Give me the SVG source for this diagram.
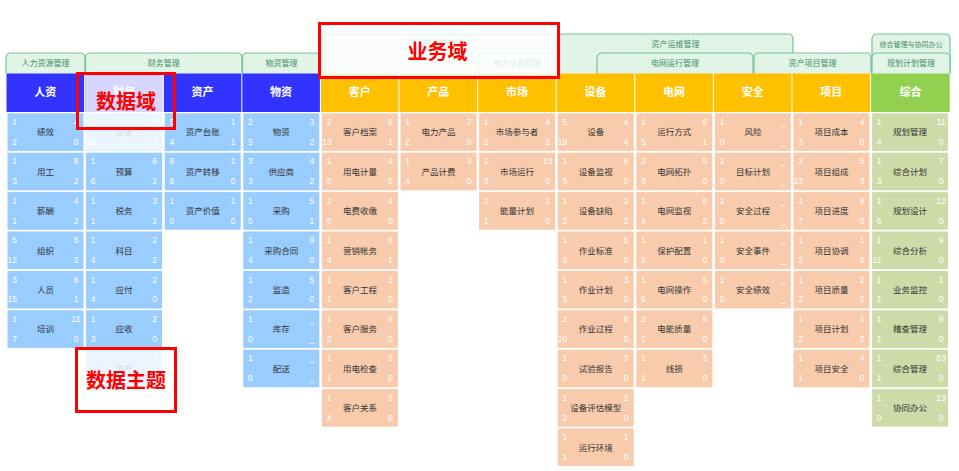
<svg xmlns="http://www.w3.org/2000/svg" xmlns:xlink="http://www.w3.org/1999/xlink" width="959" height="471" viewBox="0 0 959 471">
<defs>
<pattern id="dots" width="4" height="4" patternUnits="userSpaceOnUse"><rect width="4" height="4" fill="#dcf2e3"/><circle cx="1" cy="1" r="0.75" fill="#f8fdf9"/><circle cx="3" cy="3" r="0.75" fill="#f8fdf9"/></pattern>
<rect id="cb" x="1" y="0" width="76" height="37.6" fill="#99ccff"/>
<rect id="co" x="1" y="0" width="76" height="37.6" fill="#f8cbad"/>
<rect id="cg" x="1" y="0" width="76" height="37.6" fill="#cddba8"/>
</defs>
<style>
.n{font-family:"Liberation Sans",Arial,sans-serif;font-size:8.5px;fill:#fff}
.e{text-anchor:end}
.m{text-anchor:middle}
.t{font-family:"Noto Sans CJK SC",sans-serif;font-size:8.5px;fill:#333;text-anchor:middle}
.ht{font-family:"Noto Sans CJK SC",sans-serif;font-size:11px;font-weight:bold;fill:#fff;text-anchor:middle}
.hb{fill:#3333ff}.ho{fill:#ffc000}.hg{fill:#92d050}
.tab{fill:url(#dots);stroke:#78c298;stroke-width:1.2}
.tt{font-family:"Noto Sans CJK SC",sans-serif;font-size:8px;fill:#3f8f5f;text-anchor:middle}
.rb{fill:none;stroke:#ff0000;stroke-width:3}
.rt{font-family:"Noto Sans CJK SC",sans-serif;font-size:20px;font-weight:bold;fill:#ff0000;text-anchor:middle}
</style>
<rect width="959" height="471" fill="#fff"/>

<g id="tabs">
<g id="tab-yingxiao"><path class="tab" d="M322,73.5 V39 Q322,34 327,34 H551 Q556,34 556,39 V73.5"/><text class="tt" x="439" y="47">营销管理</text></g>
<g id="tab-zichanyunwei"><path class="tab" d="M558,73.5 V39 Q558,34 563,34 H788 Q793,34 793,39 V73.5"/><text class="tt" x="675.5" y="47">资产运维管理</text></g>
<g id="tab-zonghe"><path class="tab" d="M872,73.5 V39 Q872,34 877,34 H945 Q950,34 950,39 V73.5"/><text class="tt" x="911" y="46.5" style="font-size:7px">综合管理与协同办公</text></g>
<g id="tab-renli"><path class="tab" d="M6,73.5 V58 Q6,53 11,53 H80 Q85,53 85,58 V73.5"/><text class="tt" x="45.5" y="66">人力资源管理</text></g>
<g id="tab-caiwu"><path class="tab" d="M85.5,73.5 V58 Q85.5,53 90.5,53 H237 Q242,53 242,58 V73.5"/><text class="tt" x="163.7" y="66">财务管理</text></g>
<g id="tab-wuzi"><path class="tab" d="M242.5,73.5 V58 Q242.5,53 247.5,53 H315.5 Q320.5,53 320.5,58 V73.5"/><text class="tt" x="281.5" y="66">物资管理</text></g>
<g id="tab-dianlijiaoyi"><path class="tab" d="M478,73.5 V58 Q478,53 483,53 H551 Q556,53 556,58 V73.5"/><text class="tt" x="517" y="66">电力交易管理</text></g>
<g id="tab-dianwang"><path class="tab" d="M597,73.5 V58 Q597,53 602,53 H748 Q753,53 753,58 V73.5"/><text class="tt" x="675" y="66">电网运行管理</text></g>
<g id="tab-xiangmu"><path class="tab" d="M754,73.5 V58 Q754,53 759,53 H866 Q871,53 871,58 V73.5"/><text class="tt" x="812.5" y="66">资产项目管理</text></g>
<g id="tab-guihua"><path class="tab" d="M872,73.5 V58 Q872,53 877,53 H945 Q950,53 950,58 V73.5"/><text class="tt" x="911" y="66">规划计划管理</text></g>
</g>

<g id="headers">
<g id="h-renzi"><rect class="hb" x="6.5" y="73.5" width="77.6" height="38.5"/><text class="ht" x="45.3" y="96">人资</text></g>
<g id="h-caiwu"><rect class="hb" x="85.1" y="73.5" width="77.6" height="38.5"/><text class="ht" x="123.9" y="96">财务</text></g>
<g id="h-zichan"><rect class="hb" x="163.7" y="73.5" width="77.6" height="38.5"/><text class="ht" x="202.5" y="96">资产</text></g>
<g id="h-wuzi"><rect class="hb" x="242.3" y="73.5" width="77.6" height="38.5"/><text class="ht" x="281.1" y="96">物资</text></g>
<g id="h-kehu"><rect class="ho" x="320.9" y="73.5" width="77.6" height="38.5"/><text class="ht" x="359.7" y="96">客户</text></g>
<g id="h-chanpin"><rect class="ho" x="399.5" y="73.5" width="77.6" height="38.5"/><text class="ht" x="438.3" y="96">产品</text></g>
<g id="h-shichang"><rect class="ho" x="478.1" y="73.5" width="77.6" height="38.5"/><text class="ht" x="516.9" y="96">市场</text></g>
<g id="h-shebei"><rect class="ho" x="556.7" y="73.5" width="77.6" height="38.5"/><text class="ht" x="595.5" y="96">设备</text></g>
<g id="h-dianwang"><rect class="ho" x="635.3" y="73.5" width="77.6" height="38.5"/><text class="ht" x="674.1" y="96">电网</text></g>
<g id="h-anquan"><rect class="ho" x="713.9" y="73.5" width="77.6" height="38.5"/><text class="ht" x="752.7" y="96">安全</text></g>
<g id="h-xiangmu"><rect class="ho" x="792.5" y="73.5" width="77.6" height="38.5"/><text class="ht" x="831.3" y="96">项目</text></g>
<g id="h-zonghe"><rect class="hg" x="871.1" y="73.5" width="78.6" height="38.5"/><text class="ht" x="910.4" y="96">综合</text></g>
</g>

<g id="col-renzi" transform="translate(6.5,0)">
<g id="rz1" transform="translate(0,113.3)"><use href="#cb"/><text class="n e" x="10.5" y="11.7">1</text><text class="n m" x="69.5" y="11.7">4</text><text class="n e" x="10.5" y="31.5">2</text><text class="n m" x="69.5" y="31.5">0</text><text class="t" x="39" y="22">绩效</text></g>
<g id="rz2" transform="translate(0,152.7)"><use href="#cb"/><text class="n e" x="10.5" y="11.7">1</text><text class="n m" x="69.5" y="11.7">8</text><text class="n e" x="10.5" y="31.5">3</text><text class="n m" x="69.5" y="31.5">2</text><text class="t" x="39" y="22">用工</text></g>
<g id="rz3" transform="translate(0,192.1)"><use href="#cb"/><text class="n e" x="10.5" y="11.7">1</text><text class="n m" x="69.5" y="11.7">4</text><text class="n e" x="10.5" y="31.5">1</text><text class="n m" x="69.5" y="31.5">2</text><text class="t" x="39" y="22">薪酬</text></g>
<g id="rz4" transform="translate(0,231.5)"><use href="#cb"/><text class="n e" x="10.5" y="11.7">5</text><text class="n m" x="69.5" y="11.7">5</text><text class="n e" x="10.5" y="31.5">12</text><text class="n m" x="69.5" y="31.5">2</text><text class="t" x="39" y="22">组织</text></g>
<g id="rz5" transform="translate(0,270.9)"><use href="#cb"/><text class="n e" x="10.5" y="11.7">3</text><text class="n m" x="69.5" y="11.7">6</text><text class="n e" x="10.5" y="31.5">15</text><text class="n m" x="69.5" y="31.5">1</text><text class="t" x="39" y="22">人员</text></g>
<g id="rz6" transform="translate(0,310.3)"><use href="#cb"/><text class="n e" x="10.5" y="11.7">1</text><text class="n m" x="69.5" y="11.7">15</text><text class="n e" x="10.5" y="31.5">7</text><text class="n m" x="69.5" y="31.5">0</text><text class="t" x="39" y="22">培训</text></g>
</g>

<g id="col-caiwu" transform="translate(85.1,0)">
<g id="cw1" transform="translate(0,113.3)"><use href="#cb"/><text class="n e" x="10.5" y="11.7">1</text><text class="n m" x="69.5" y="11.7">20</text><text class="n e" x="10.5" y="31.5">15</text><text class="n m" x="69.5" y="31.5">7</text><text class="t" x="39" y="22">总账</text></g>
<g id="cw2" transform="translate(0,152.7)"><use href="#cb"/><text class="n e" x="10.5" y="11.7">1</text><text class="n m" x="69.5" y="11.7">6</text><text class="n e" x="10.5" y="31.5">6</text><text class="n m" x="69.5" y="31.5">2</text><text class="t" x="39" y="22">预算</text></g>
<g id="cw3" transform="translate(0,192.1)"><use href="#cb"/><text class="n e" x="10.5" y="11.7">1</text><text class="n m" x="69.5" y="11.7">3</text><text class="n e" x="10.5" y="31.5">1</text><text class="n m" x="69.5" y="31.5">2</text><text class="t" x="39" y="22">税务</text></g>
<g id="cw4" transform="translate(0,231.5)"><use href="#cb"/><text class="n e" x="10.5" y="11.7">1</text><text class="n m" x="69.5" y="11.7">2</text><text class="n e" x="10.5" y="31.5">4</text><text class="n m" x="69.5" y="31.5">2</text><text class="t" x="39" y="22">科目</text></g>
<g id="cw5" transform="translate(0,270.9)"><use href="#cb"/><text class="n e" x="10.5" y="11.7">1</text><text class="n m" x="69.5" y="11.7">2</text><text class="n e" x="10.5" y="31.5">4</text><text class="n m" x="69.5" y="31.5">0</text><text class="t" x="39" y="22">应付</text></g>
<g id="cw6" transform="translate(0,310.3)"><use href="#cb"/><text class="n e" x="10.5" y="11.7">1</text><text class="n m" x="69.5" y="11.7">2</text><text class="n e" x="10.5" y="31.5">3</text><text class="n m" x="69.5" y="31.5">0</text><text class="t" x="39" y="22">应收</text></g>
<g id="cw7" transform="translate(0,349.7)"><use href="#cb"/><text class="n e" x="10.5" y="11.7">2</text><text class="n m" x="69.5" y="11.7">3</text><text class="t" x="39" y="22">资产</text></g>
</g>

<g id="col-zichan" transform="translate(163.7,0)">
<g id="zc1" transform="translate(0,113.3)"><use href="#cb"/><text class="n e" x="10.5" y="11.7">5</text><text class="n m" x="69.5" y="11.7">1</text><text class="n e" x="10.5" y="31.5">4</text><text class="n m" x="69.5" y="31.5">1</text><text class="t" x="39" y="22">资产台账</text></g>
<g id="zc2" transform="translate(0,152.7)"><use href="#cb"/><text class="n e" x="10.5" y="11.7">6</text><text class="n m" x="69.5" y="11.7">1</text><text class="n e" x="10.5" y="31.5">8</text><text class="n m" x="69.5" y="31.5">0</text><text class="t" x="39" y="22">资产转移</text></g>
<g id="zc3" transform="translate(0,192.1)"><use href="#cb"/><text class="n e" x="10.5" y="11.7">1</text><text class="n m" x="69.5" y="11.7">1</text><text class="n e" x="10.5" y="31.5">0</text><text class="n m" x="69.5" y="31.5">0</text><text class="t" x="39" y="22">资产价值</text></g>
</g>

<g id="col-wuzi" transform="translate(242.3,0)">
<g id="wz1" transform="translate(0,113.3)"><use href="#cb"/><text class="n e" x="10.5" y="11.7">2</text><text class="n m" x="69.5" y="11.7">3</text><text class="n e" x="10.5" y="31.5">5</text><text class="n m" x="69.5" y="31.5">2</text><text class="t" x="39" y="22">物资</text></g>
<g id="wz2" transform="translate(0,152.7)"><use href="#cb"/><text class="n e" x="10.5" y="11.7">3</text><text class="n m" x="69.5" y="11.7">4</text><text class="n e" x="10.5" y="31.5">3</text><text class="n m" x="69.5" y="31.5">2</text><text class="t" x="39" y="22">供应商</text></g>
<g id="wz3" transform="translate(0,192.1)"><use href="#cb"/><text class="n e" x="10.5" y="11.7">1</text><text class="n m" x="69.5" y="11.7">5</text><text class="n e" x="10.5" y="31.5">5</text><text class="n m" x="69.5" y="31.5">1</text><text class="t" x="39" y="22">采购</text></g>
<g id="wz4" transform="translate(0,231.5)"><use href="#cb"/><text class="n e" x="10.5" y="11.7">1</text><text class="n m" x="69.5" y="11.7">9</text><text class="n e" x="10.5" y="31.5">4</text><text class="n m" x="69.5" y="31.5">0</text><text class="t" x="39" y="22">采购合同</text></g>
<g id="wz5" transform="translate(0,270.9)"><use href="#cb"/><text class="n e" x="10.5" y="11.7">1</text><text class="n m" x="69.5" y="11.7">5</text><text class="n e" x="10.5" y="31.5">2</text><text class="n m" x="69.5" y="31.5">0</text><text class="t" x="39" y="22">监造</text></g>
<g id="wz6" transform="translate(0,310.3)"><use href="#cb"/><text class="n e" x="10.5" y="11.7">1</text><text class="n m" x="69.5" y="11.7">_</text><text class="n e" x="10.5" y="31.5">0</text><text class="n m" x="69.5" y="31.5">_</text><text class="t" x="39" y="22">库存</text></g>
<g id="wz7" transform="translate(0,349.7)"><use href="#cb"/><text class="n e" x="10.5" y="11.7">1</text><text class="n m" x="69.5" y="11.7">_</text><text class="n e" x="10.5" y="31.5">0</text><text class="n m" x="69.5" y="31.5">_</text><text class="t" x="39" y="22">配送</text></g>
</g>

<g id="col-kehu" transform="translate(320.9,0)">
<g id="kh1" transform="translate(0,113.3)"><use href="#co"/><text class="n e" x="10.5" y="11.7">2</text><text class="n m" x="69.5" y="11.7">9</text><text class="n e" x="10.5" y="31.5">13</text><text class="n m" x="69.5" y="31.5">1</text><text class="t" x="39" y="22">客户档案</text></g>
<g id="kh2" transform="translate(0,152.7)"><use href="#co"/><text class="n e" x="10.5" y="11.7">1</text><text class="n m" x="69.5" y="11.7">4</text><text class="n e" x="10.5" y="31.5">6</text><text class="n m" x="69.5" y="31.5">0</text><text class="t" x="39" y="22">用电计量</text></g>
<g id="kh3" transform="translate(0,192.1)"><use href="#co"/><text class="n e" x="10.5" y="11.7">2</text><text class="n m" x="69.5" y="11.7">4</text><text class="n e" x="10.5" y="31.5">6</text><text class="n m" x="69.5" y="31.5">0</text><text class="t" x="39" y="22">电费收缴</text></g>
<g id="kh4" transform="translate(0,231.5)"><use href="#co"/><text class="n e" x="10.5" y="11.7">1</text><text class="n m" x="69.5" y="11.7">6</text><text class="n e" x="10.5" y="31.5">4</text><text class="n m" x="69.5" y="31.5">1</text><text class="t" x="39" y="22">营销帐务</text></g>
<g id="kh5" transform="translate(0,270.9)"><use href="#co"/><text class="n e" x="10.5" y="11.7">1</text><text class="n m" x="69.5" y="11.7">3</text><text class="n e" x="10.5" y="31.5">1</text><text class="n m" x="69.5" y="31.5">0</text><text class="t" x="39" y="22">客户工程</text></g>
<g id="kh6" transform="translate(0,310.3)"><use href="#co"/><text class="n e" x="10.5" y="11.7">1</text><text class="n m" x="69.5" y="11.7">6</text><text class="n e" x="10.5" y="31.5">2</text><text class="n m" x="69.5" y="31.5">0</text><text class="t" x="39" y="22">客户服务</text></g>
<g id="kh7" transform="translate(0,349.7)"><use href="#co"/><text class="n e" x="10.5" y="11.7">1</text><text class="n m" x="69.5" y="11.7">3</text><text class="n e" x="10.5" y="31.5">1</text><text class="n m" x="69.5" y="31.5">0</text><text class="t" x="39" y="22">用电检查</text></g>
<g id="kh8" transform="translate(0,389.1)"><use href="#co"/><text class="n e" x="10.5" y="11.7">1</text><text class="n m" x="69.5" y="11.7">3</text><text class="n e" x="10.5" y="31.5">4</text><text class="n m" x="69.5" y="31.5">0</text><text class="t" x="39" y="22">客户关系</text></g>
</g>

<g id="col-chanpin" transform="translate(399.5,0)">
<g id="cp1" transform="translate(0,113.3)"><use href="#co"/><text class="n e" x="10.5" y="11.7">1</text><text class="n m" x="69.5" y="11.7">7</text><text class="n e" x="10.5" y="31.5">2</text><text class="n m" x="69.5" y="31.5">0</text><text class="t" x="39" y="22">电力产品</text></g>
<g id="cp2" transform="translate(0,152.7)"><use href="#co"/><text class="n e" x="10.5" y="11.7">1</text><text class="n m" x="69.5" y="11.7">3</text><text class="n e" x="10.5" y="31.5">4</text><text class="n m" x="69.5" y="31.5">0</text><text class="t" x="39" y="22">产品计费</text></g>
</g>

<g id="col-shichang" transform="translate(478.1,0)">
<g id="sc1" transform="translate(0,113.3)"><use href="#co"/><text class="n e" x="10.5" y="11.7">1</text><text class="n m" x="69.5" y="11.7">4</text><text class="n e" x="10.5" y="31.5">2</text><text class="n m" x="69.5" y="31.5">2</text><text class="t" x="39" y="22">市场参与者</text></g>
<g id="sc2" transform="translate(0,152.7)"><use href="#co"/><text class="n e" x="10.5" y="11.7">1</text><text class="n m" x="69.5" y="11.7">13</text><text class="n e" x="10.5" y="31.5">3</text><text class="n m" x="69.5" y="31.5">0</text><text class="t" x="39" y="22">市场运行</text></g>
<g id="sc3" transform="translate(0,192.1)"><use href="#co"/><text class="n e" x="10.5" y="11.7">2</text><text class="n m" x="69.5" y="11.7">1</text><text class="n e" x="10.5" y="31.5">1</text><text class="n m" x="69.5" y="31.5">0</text><text class="t" x="39" y="22">能量计划</text></g>
</g>

<g id="col-shebei" transform="translate(556.7,0)">
<g id="sb1" transform="translate(0,113.3)"><use href="#co"/><text class="n e" x="10.5" y="11.7">5</text><text class="n m" x="69.5" y="11.7">4</text><text class="n e" x="10.5" y="31.5">19</text><text class="n m" x="69.5" y="31.5">4</text><text class="t" x="39" y="22">设备</text></g>
<g id="sb2" transform="translate(0,152.7)"><use href="#co"/><text class="n e" x="10.5" y="11.7">1</text><text class="n m" x="69.5" y="11.7">8</text><text class="n e" x="10.5" y="31.5">5</text><text class="n m" x="69.5" y="31.5">0</text><text class="t" x="39" y="22">设备监视</text></g>
<g id="sb3" transform="translate(0,192.1)"><use href="#co"/><text class="n e" x="10.5" y="11.7">1</text><text class="n m" x="69.5" y="11.7">2</text><text class="n e" x="10.5" y="31.5">2</text><text class="n m" x="69.5" y="31.5">2</text><text class="t" x="39" y="22">设备缺陷</text></g>
<g id="sb4" transform="translate(0,231.5)"><use href="#co"/><text class="n e" x="10.5" y="11.7">1</text><text class="n m" x="69.5" y="11.7">5</text><text class="n e" x="10.5" y="31.5">2</text><text class="n m" x="69.5" y="31.5">0</text><text class="t" x="39" y="22">作业标准</text></g>
<g id="sb5" transform="translate(0,270.9)"><use href="#co"/><text class="n e" x="10.5" y="11.7">1</text><text class="n m" x="69.5" y="11.7">3</text><text class="n e" x="10.5" y="31.5">5</text><text class="n m" x="69.5" y="31.5">0</text><text class="t" x="39" y="22">作业计划</text></g>
<g id="sb6" transform="translate(0,310.3)"><use href="#co"/><text class="n e" x="10.5" y="11.7">2</text><text class="n m" x="69.5" y="11.7">8</text><text class="n e" x="10.5" y="31.5">10</text><text class="n m" x="69.5" y="31.5">0</text><text class="t" x="39" y="22">作业过程</text></g>
<g id="sb7" transform="translate(0,349.7)"><use href="#co"/><text class="n e" x="10.5" y="11.7">1</text><text class="n m" x="69.5" y="11.7">3</text><text class="n e" x="10.5" y="31.5">0</text><text class="n m" x="69.5" y="31.5">0</text><text class="t" x="39" y="22">试验报告</text></g>
<g id="sb8" transform="translate(0,389.1)"><use href="#co"/><text class="n e" x="10.5" y="11.7">1</text><text class="n m" x="69.5" y="11.7">2</text><text class="n e" x="10.5" y="31.5">2</text><text class="n m" x="69.5" y="31.5">0</text><text class="t" x="39" y="22">设备评估模型</text></g>
<g id="sb9" transform="translate(0,428.5)"><use href="#co"/><text class="n e" x="10.5" y="11.7">1</text><text class="n m" x="69.5" y="11.7">1</text><text class="n e" x="10.5" y="31.5">1</text><text class="n m" x="69.5" y="31.5">0</text><text class="t" x="39" y="22">运行环境</text></g>
</g>

<g id="col-dianwang" transform="translate(635.3,0)">
<g id="dw1" transform="translate(0,113.3)"><use href="#co"/><text class="n e" x="10.5" y="11.7">1</text><text class="n m" x="69.5" y="11.7">8</text><text class="n e" x="10.5" y="31.5">5</text><text class="n m" x="69.5" y="31.5">1</text><text class="t" x="39" y="22">运行方式</text></g>
<g id="dw2" transform="translate(0,152.7)"><use href="#co"/><text class="n e" x="10.5" y="11.7">2</text><text class="n m" x="69.5" y="11.7">5</text><text class="n e" x="10.5" y="31.5">3</text><text class="n m" x="69.5" y="31.5">0</text><text class="t" x="39" y="22">电网拓扑</text></g>
<g id="dw3" transform="translate(0,192.1)"><use href="#co"/><text class="n e" x="10.5" y="11.7">1</text><text class="n m" x="69.5" y="11.7">6</text><text class="n e" x="10.5" y="31.5">4</text><text class="n m" x="69.5" y="31.5">2</text><text class="t" x="39" y="22">电网监视</text></g>
<g id="dw4" transform="translate(0,231.5)"><use href="#co"/><text class="n e" x="10.5" y="11.7">1</text><text class="n m" x="69.5" y="11.7">1</text><text class="n e" x="10.5" y="31.5">2</text><text class="n m" x="69.5" y="31.5">0</text><text class="t" x="39" y="22">保护配置</text></g>
<g id="dw5" transform="translate(0,270.9)"><use href="#co"/><text class="n e" x="10.5" y="11.7">1</text><text class="n m" x="69.5" y="11.7">5</text><text class="n e" x="10.5" y="31.5">6</text><text class="n m" x="69.5" y="31.5">0</text><text class="t" x="39" y="22">电网操作</text></g>
<g id="dw6" transform="translate(0,310.3)"><use href="#co"/><text class="n e" x="10.5" y="11.7">2</text><text class="n m" x="69.5" y="11.7">5</text><text class="n e" x="10.5" y="31.5">1</text><text class="n m" x="69.5" y="31.5">0</text><text class="t" x="39" y="22">电能质量</text></g>
<g id="dw7" transform="translate(0,349.7)"><use href="#co"/><text class="n e" x="10.5" y="11.7">1</text><text class="n m" x="69.5" y="11.7">3</text><text class="n e" x="10.5" y="31.5">1</text><text class="n m" x="69.5" y="31.5">0</text><text class="t" x="39" y="22">线损</text></g>
</g>

<g id="col-anquan" transform="translate(713.9,0)">
<g id="aq1" transform="translate(0,113.3)"><use href="#co"/><text class="n e" x="10.5" y="11.7">1</text><text class="n m" x="69.5" y="11.7">_</text><text class="n e" x="10.5" y="31.5">0</text><text class="n m" x="69.5" y="31.5">_</text><text class="t" x="39" y="22">风险</text></g>
<g id="aq2" transform="translate(0,152.7)"><use href="#co"/><text class="n e" x="10.5" y="11.7">1</text><text class="n m" x="69.5" y="11.7">_</text><text class="n e" x="10.5" y="31.5">0</text><text class="n m" x="69.5" y="31.5">_</text><text class="t" x="39" y="22">目标计划</text></g>
<g id="aq3" transform="translate(0,192.1)"><use href="#co"/><text class="n e" x="10.5" y="11.7">1</text><text class="n m" x="69.5" y="11.7">_</text><text class="n e" x="10.5" y="31.5">0</text><text class="n m" x="69.5" y="31.5">_</text><text class="t" x="39" y="22">安全过程</text></g>
<g id="aq4" transform="translate(0,231.5)"><use href="#co"/><text class="n e" x="10.5" y="11.7">1</text><text class="n m" x="69.5" y="11.7">_</text><text class="n e" x="10.5" y="31.5">0</text><text class="n m" x="69.5" y="31.5">_</text><text class="t" x="39" y="22">安全事件</text></g>
<g id="aq5" transform="translate(0,270.9)"><use href="#co"/><text class="n e" x="10.5" y="11.7">1</text><text class="n m" x="69.5" y="11.7">_</text><text class="n e" x="10.5" y="31.5">0</text><text class="n m" x="69.5" y="31.5">_</text><text class="t" x="39" y="22">安全绩效</text></g>
</g>

<g id="col-xiangmu" transform="translate(792.5,0)">
<g id="xm1" transform="translate(0,113.3)"><use href="#co"/><text class="n e" x="10.5" y="11.7">1</text><text class="n m" x="69.5" y="11.7">4</text><text class="n e" x="10.5" y="31.5">3</text><text class="n m" x="69.5" y="31.5">0</text><text class="t" x="39" y="22">项目成本</text></g>
<g id="xm2" transform="translate(0,152.7)"><use href="#co"/><text class="n e" x="10.5" y="11.7">2</text><text class="n m" x="69.5" y="11.7">5</text><text class="n e" x="10.5" y="31.5">23</text><text class="n m" x="69.5" y="31.5">3</text><text class="t" x="39" y="22">项目组成</text></g>
<g id="xm3" transform="translate(0,192.1)"><use href="#co"/><text class="n e" x="10.5" y="11.7">1</text><text class="n m" x="69.5" y="11.7">9</text><text class="n e" x="10.5" y="31.5">7</text><text class="n m" x="69.5" y="31.5">0</text><text class="t" x="39" y="22">项目进度</text></g>
<g id="xm4" transform="translate(0,231.5)"><use href="#co"/><text class="n e" x="10.5" y="11.7">1</text><text class="n m" x="69.5" y="11.7">1</text><text class="n e" x="10.5" y="31.5">2</text><text class="n m" x="69.5" y="31.5">0</text><text class="t" x="39" y="22">项目协调</text></g>
<g id="xm5" transform="translate(0,270.9)"><use href="#co"/><text class="n e" x="10.5" y="11.7">1</text><text class="n m" x="69.5" y="11.7">2</text><text class="n e" x="10.5" y="31.5">2</text><text class="n m" x="69.5" y="31.5">0</text><text class="t" x="39" y="22">项目质量</text></g>
<g id="xm6" transform="translate(0,310.3)"><use href="#co"/><text class="n e" x="10.5" y="11.7">1</text><text class="n m" x="69.5" y="11.7">1</text><text class="n e" x="10.5" y="31.5">2</text><text class="n m" x="69.5" y="31.5">0</text><text class="t" x="39" y="22">项目计划</text></g>
<g id="xm7" transform="translate(0,349.7)"><use href="#co"/><text class="n e" x="10.5" y="11.7">1</text><text class="n m" x="69.5" y="11.7">4</text><text class="n e" x="10.5" y="31.5">1</text><text class="n m" x="69.5" y="31.5">0</text><text class="t" x="39" y="22">项目安全</text></g>
</g>

<g id="col-zonghe" transform="translate(871.1,0)">
<g id="zh1" transform="translate(0,113.3)"><use href="#cg"/><text class="n e" x="10.5" y="11.7">1</text><text class="n m" x="70" y="11.7">11</text><text class="n e" x="10.5" y="31.5">4</text><text class="n m" x="70" y="31.5">0</text><text class="t" x="39" y="22">规划管理</text></g>
<g id="zh2" transform="translate(0,152.7)"><use href="#cg"/><text class="n e" x="10.5" y="11.7">1</text><text class="n m" x="70" y="11.7">7</text><text class="n e" x="10.5" y="31.5">3</text><text class="n m" x="70" y="31.5">0</text><text class="t" x="39" y="22">综合计划</text></g>
<g id="zh3" transform="translate(0,192.1)"><use href="#cg"/><text class="n e" x="10.5" y="11.7">1</text><text class="n m" x="70" y="11.7">12</text><text class="n e" x="10.5" y="31.5">6</text><text class="n m" x="70" y="31.5">0</text><text class="t" x="39" y="22">规划设计</text></g>
<g id="zh4" transform="translate(0,231.5)"><use href="#cg"/><text class="n e" x="10.5" y="11.7">1</text><text class="n m" x="70" y="11.7">9</text><text class="n e" x="10.5" y="31.5">11</text><text class="n m" x="70" y="31.5">0</text><text class="t" x="39" y="22">综合分析</text></g>
<g id="zh5" transform="translate(0,270.9)"><use href="#cg"/><text class="n e" x="10.5" y="11.7">1</text><text class="n m" x="70" y="11.7">1</text><text class="n e" x="10.5" y="31.5">1</text><text class="n m" x="70" y="31.5">0</text><text class="t" x="39" y="22">业务监控</text></g>
<g id="zh6" transform="translate(0,310.3)"><use href="#cg"/><text class="n e" x="10.5" y="11.7">1</text><text class="n m" x="70" y="11.7">9</text><text class="n e" x="10.5" y="31.5">1</text><text class="n m" x="70" y="31.5">0</text><text class="t" x="39" y="22">稽查管理</text></g>
<g id="zh7" transform="translate(0,349.7)"><use href="#cg"/><text class="n e" x="10.5" y="11.7">1</text><text class="n m" x="70" y="11.7">63</text><text class="n e" x="10.5" y="31.5">1</text><text class="n m" x="70" y="31.5">0</text><text class="t" x="39" y="22">综合管理</text></g>
<g id="zh8" transform="translate(0,389.1)"><use href="#cg"/><text class="n e" x="10.5" y="11.7">1</text><text class="n m" x="70" y="11.7">13</text><text class="n e" x="10.5" y="31.5">0</text><text class="n m" x="70" y="31.5">0</text><text class="t" x="39" y="22">协同办公</text></g>
</g>

<g id="annotations">
<g id="ann-shujuyu"><rect x="85.1" y="73.5" width="78.6" height="77.4" fill="#fff" fill-opacity="0.8"/><rect class="rb" x="77.5" y="73.5" width="97" height="55"/><text class="rt" x="126" y="109">数据域</text></g>
<g id="ann-yewuyu"><rect x="319.5" y="23.5" width="239" height="54" fill="#fff" fill-opacity="0.82" class="rb" style="fill:#fff"/><text class="rt" x="437.5" y="59">业务域</text></g>
<g id="ann-shujuzhuti"><rect x="86.1" y="349.7" width="76" height="37.6" fill="#fff" fill-opacity="0.8"/><rect class="rb" x="76.5" y="348.5" width="99" height="63"/><text class="rt" x="126" y="388">数据主题</text></g>
</g>
</svg>
